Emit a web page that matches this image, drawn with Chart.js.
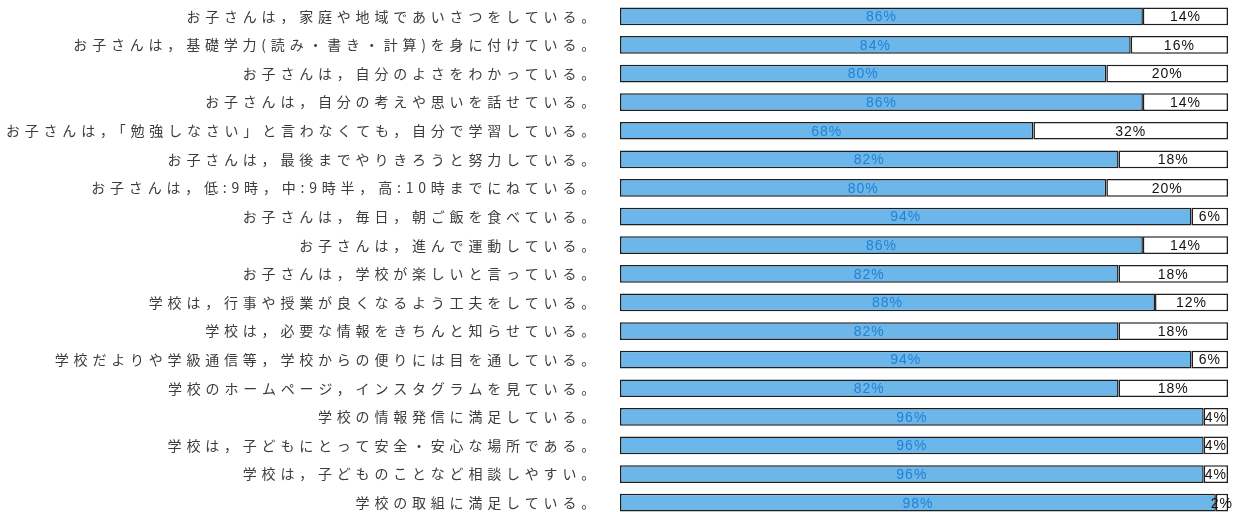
<!DOCTYPE html>
<html lang="ja">
<head>
<meta charset="utf-8">
<script src="https://cdn.jsdelivr.net/npm/chart.js@4.4.1/dist/chart.umd.min.js"></script>
<style>
    html, body { margin: 0; padding: 0; background: #fff; overflow: hidden; }
    #wrap { position: relative; width: 1236px; height: 517px; }
</style>
</head>
<body>
<div id="wrap"><canvas id="chart"></canvas></div>
<script>
// アンケート項目
const CATEGORIES = [
    "お子さんは，家庭や地域であいさつをしている。",
    "お子さんは，基礎学力(読み・書き・計算)を身に付けている。",
    "お子さんは，自分のよさをわかっている。",
    "お子さんは，自分の考えや思いを話せている。",
    "お子さんは，「勉強しなさい」と言わなくても，自分で学習している。",
    "お子さんは，最後までやりきろうと努力している。",
    "お子さんは，低:9時，中:9時半，高:10時までにねている。",
    "お子さんは，毎日，朝ご飯を食べている。",
    "お子さんは，進んで運動している。",
    "お子さんは，学校が楽しいと言っている。",
    "学校は，行事や授業が良くなるよう工夫をしている。",
    "学校は，必要な情報をきちんと知らせている。",
    "学校だよりや学級通信等，学校からの便りには目を通している。",
    "学校のホームページ，インスタグラムを見ている。",
    "学校の情報発信に満足している。",
    "学校は，子どもにとって安全・安心な場所である。",
    "学校は，子どものことなど相談しやすい。",
    "学校の取組に満足している。"
];

// 肯定的な回答 (%)
const POSITIVE = [86, 84, 80, 86, 68, 82, 80, 94, 86, 82, 88, 82, 94, 82, 96, 96, 96, 98];
// それ以外 (%)
const OTHER = [14, 16, 20, 14, 32, 18, 20, 6, 14, 18, 12, 18, 6, 18, 4, 4, 4, 2];

const BLUE = "#6cb6ea";
const BLUE_TEXT = "#2283d2";
const EDGE = "#1e1e1e";

// tick labels are spaced out like the original print
const spacingPlugin = {
    id: "spacing",
    beforeDraw(chart) { chart.ctx.letterSpacing = "4.8px"; },
    beforeDatasetsDraw(chart) { chart.ctx.letterSpacing = "0px"; }
};

// percent text in the middle of each segment
const valueLabels = {
    id: "valueLabels",
    afterDatasetsDraw(chart) {
        const ctx = chart.ctx;
        ctx.save();
        ctx.font = "14px 'Liberation Sans', Arial, sans-serif";
        ctx.letterSpacing = "1px";
        ctx.textAlign = "center";
        ctx.textBaseline = "middle";
        chart.data.datasets.forEach((ds, di) => {
            const meta = chart.getDatasetMeta(di);
            ctx.fillStyle = di === 0 ? BLUE_TEXT : "#111";
            meta.data.forEach((bar, i) => {
                const cx = (bar.x + bar.base) / 2;
                ctx.fillText(ds.data[i] + "%", cx, bar.y + 1);
            });
        });
        ctx.restore();
    }
};

new Chart(document.getElementById("chart"), {
    type: "bar",
    data: {
        labels: CATEGORIES,
        datasets: [
            {
                label: "positive",
                data: POSITIVE,
                backgroundColor: BLUE,
                borderColor: EDGE,
                borderWidth: 1.5,
                borderSkipped: false,
                categoryPercentage: 1,
                barPercentage: 0.62
            },
            {
                label: "other",
                data: OTHER,
                backgroundColor: "#ffffff",
                borderColor: EDGE,
                borderWidth: 1.5,
                borderSkipped: false,
                categoryPercentage: 1,
                barPercentage: 0.62
            }
        ]
    },
    options: {
        indexAxis: "y",
        responsive: true,
        maintainAspectRatio: false,
        animation: false,
        layout: { padding: { top: 2, right: 8, bottom: 0, left: 0 } },
        plugins: {
            legend: { display: false },
            tooltip: { enabled: false }
        },
        scales: {
            x: {
                stacked: true,
                min: 0,
                max: 100,
                display: false
            },
            y: {
                stacked: true,
                afterFit(scale) {
                    scale.width = 620;
                    scale.paddingTop = 0;
                    scale.paddingBottom = 0;
                },
                grid: { display: false, drawTicks: false },
                border: { display: false },
                ticks: {
                    autoSkip: false,
                    padding: 20,
                    color: "#3c3c3c",
                    font: { family: "'Noto Sans CJK JP', sans-serif", size: 14 }
                }
            }
        }
    },
    plugins: [spacingPlugin, valueLabels]
});
</script>
</body>
</html>
